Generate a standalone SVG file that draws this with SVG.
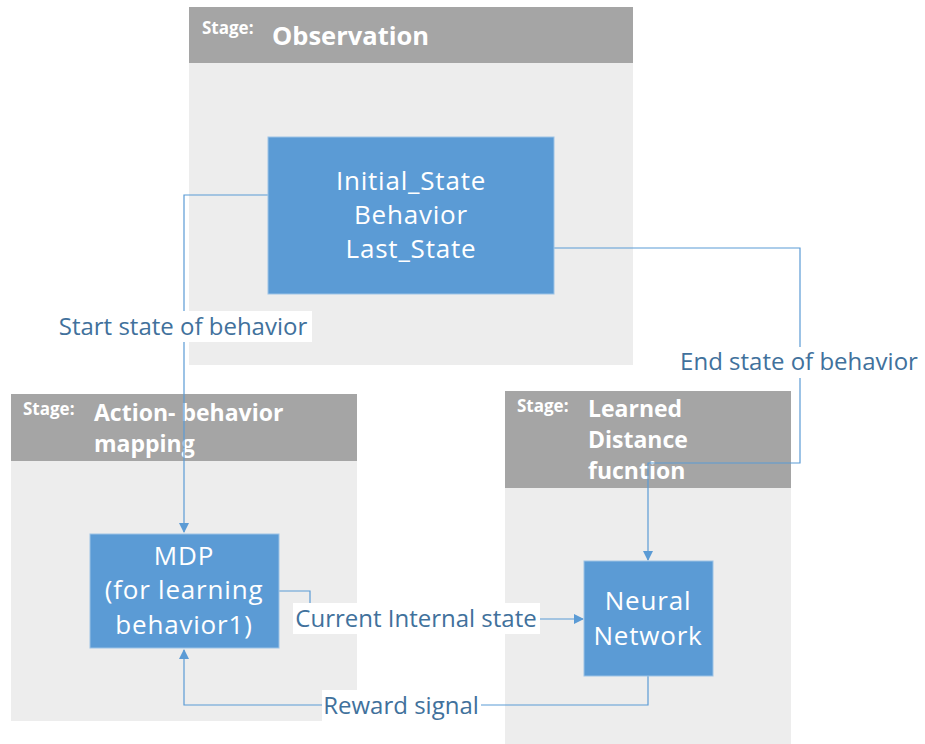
<svg xmlns="http://www.w3.org/2000/svg" width="925" height="744" viewBox="0 0 925 744">
  <defs>
    <marker id="arrow" markerWidth="10" markerHeight="10" refX="9" refY="5" orient="auto" markerUnits="userSpaceOnUse">
      <path d="M0,0 L10,5 L0,10 Z" fill="#5B9BD5"/>
    </marker>
    <style>
      .head { fill: #A5A5A5; }
      .body { fill: #EDEDED; }
      .box { fill: #5B9BD5; stroke: #9DC3E6; stroke-width: 1; }
      .stage { font-family: "Open Sans", "Noto Sans", sans-serif; font-weight: bold; font-size: 17px; fill: #FFFFFF; }
      .title { font-family: "Open Sans", "Noto Sans", sans-serif; font-weight: bold; font-size: 25.5px; fill: #FFFFFF; }
      .title.small { font-size: 23px; }
      .node-text { font-family: "Open Sans", "Noto Sans", sans-serif; font-size: 26px; letter-spacing: 0.8px; fill: #FFFFFF; text-anchor: middle; }
      .edge { fill: none; stroke: #5B9BD5; stroke-width: 1.2; }
      .lbl-bg { fill: #FFFFFF; }
      .lbl { font-family: "Open Sans", "Noto Sans", sans-serif; font-size: 24px; fill: #41719C; text-anchor: middle; }
    </style>
  </defs>

  <rect width="925" height="744" fill="#FFFFFF"/>

  <!-- Stage lanes -->
  <g id="lane-observation">
    <rect class="body" x="189" y="63" width="444" height="302"/>
    <rect class="head" x="189" y="7" width="444" height="56"/>
    <text class="stage" x="202" y="34">Stage:</text>
    <text class="title" x="272" y="45">Observation</text>
  </g>
  <g id="lane-action">
    <rect class="body" x="11" y="461" width="346" height="260"/>
    <rect class="head" x="11" y="394" width="346" height="67"/>
    <text class="stage" x="23" y="415">Stage:</text>
    <text class="title small" x="94" y="421">Action- behavior</text>
    <text class="title small" x="94" y="452">mapping</text>
  </g>
  <g id="lane-distance">
    <rect class="body" x="505" y="488" width="286" height="256"/>
    <rect class="head" x="505" y="391" width="286" height="97"/>
    <text class="stage" x="517" y="412">Stage:</text>
    <text class="title small" x="588" y="417">Learned</text>
    <text class="title small" x="588" y="448">Distance</text>
    <text class="title small" x="588" y="479">fucntion</text>
  </g>

  <!-- Connectors -->
  <g id="connectors">
    <path class="edge" d="M268,195 H184 V532" marker-end="url(#arrow)"/>
    <path class="edge" d="M554,248 H800 V463 H648 V560" marker-end="url(#arrow)"/>
    <path class="edge" d="M279,591 H310 V619 H583" marker-end="url(#arrow)"/>
    <path class="edge" d="M648,676 V705 H184 V650" marker-end="url(#arrow)"/>

    <rect class="lbl-bg" x="55" y="311" width="257" height="31"/>
    <text class="lbl" x="183" y="335">Start state of behavior</text>
    <rect class="lbl-bg" x="676" y="347" width="246" height="31"/>
    <text class="lbl" x="799" y="370">End state of behavior</text>
    <rect class="lbl-bg" x="293" y="603" width="247" height="31"/>
    <text class="lbl" x="416" y="627">Current Internal state</text>
    <rect class="lbl-bg" x="322" y="690" width="159" height="31"/>
    <text class="lbl" x="401" y="714">Reward signal</text>
  </g>

  <!-- Nodes -->
  <g id="node-observation">
    <rect class="box" x="268" y="137" width="286" height="157"/>
    <text class="node-text" x="411" y="190">Initial_State</text>
    <text class="node-text" x="411" y="224">Behavior</text>
    <text class="node-text" x="411" y="258">Last_State</text>
  </g>
  <g id="node-mdp">
    <rect class="box" x="90" y="534" width="189" height="114"/>
    <text class="node-text" x="184" y="565">MDP</text>
    <text class="node-text" x="184" y="599">(for learning</text>
    <text class="node-text" x="184" y="634">behavior1)</text>
  </g>
  <g id="node-network">
    <rect class="box" x="584" y="561" width="129" height="115"/>
    <text class="node-text" x="648" y="610">Neural</text>
    <text class="node-text" x="648" y="645">Network</text>
  </g>
</svg>
